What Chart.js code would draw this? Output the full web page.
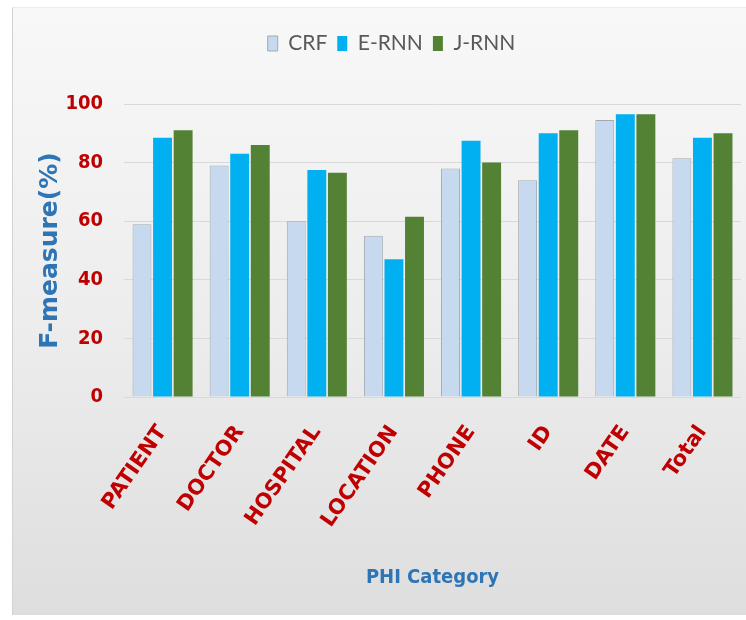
<!DOCTYPE html>
<html>
<head>
<meta charset="utf-8">
<script src="https://cdn.jsdelivr.net/npm/chart.js@4/dist/chart.umd.min.js"></script>
<style>
  body { margin: 0; background: #fff; }
  #frame {
    position: absolute; left: 12px; top: 7px; width: 740px; height: 607px;
    background: linear-gradient(#f8f8f8, #ececec 55%, #dedede);
    border-left: 1px solid #d2d2d2; border-top: 1px solid #ececec;
  }
  #wrap { position: absolute; left: 0; top: 0; width: 746px; height: 620px; }
</style>
</head>
<body>
<div id="frame"></div>
<div id="wrap"><canvas id="myChart" width="746" height="620"></canvas></div>
<script>
const categories = ['PATIENT', 'DOCTOR', 'HOSPITAL', 'LOCATION', 'PHONE', 'ID', 'DATE', 'Total'];
const crf = [59, 79, 60, 55, 78, 74, 94.5, 81.5];
const ernn = [88.5, 83, 77.5, 47, 87.5, 90, 96.5, 88.5];
const jrnn = [91, 86, 76.5, 61.5, 80, 91, 96.5, 90];
const yTicks = [0, 20, 40, 60, 80, 100];

const lato = "Lato, 'DejaVu Sans Condensed', sans-serif";
const cond = "'DejaVu Sans Condensed', 'DejaVu Sans', sans-serif";
const wide = "'DejaVu Sans', sans-serif";
const red = '#c00000';
const blue = '#2e75b6';

// legend block fixed so the plot starts at y=104, shifted a bit right like the original
const legendBox = {
    id: 'legendBox',
    beforeInit(chart) {
        const fit = chart.legend.fit;
        chart.legend.fit = function () {
            fit.call(this);
            this.height = 81;
        };
    },
    afterLayout(chart) {
        chart.legend.left += 30;
    }
};

const data = {
    labels: categories,
    datasets: [{
        label: 'CRF',
        data: crf,
        backgroundColor: '#c6d9ef',
        borderColor: '#a3a9b0',
        borderWidth: 1
    },
    {
        label: 'E-RNN',
        data: ernn,
        backgroundColor: '#00b0f0',
        borderWidth: 0
    },
    {
        label: 'J-RNN',
        data: jrnn,
        backgroundColor: '#548235',
        borderWidth: 0
    }]
};

const config = {
    type: 'bar',
    data: data,
    plugins: [legendBox],
    options: {
        responsive: false,
        animation: false,
        layout: { padding: { top: 23, left: 12, right: 5, bottom: 0 } },
        datasets: { bar: { categoryPercentage: 0.8, barPercentage: 0.92 } },
        plugins: {
            legend: {
                labels: {
                    boxWidth: 10,
                    boxHeight: 15,
                    padding: 10,
                    color: '#595959',
                    font: { family: lato, size: 21 }
                }
            },
            tooltip: { enabled: false }
        },
        scales: {
            y: {
                min: 0,
                max: 100,
                afterBuildTicks(scale) { scale.ticks = yTicks.map(v => ({ value: v })); },
                afterFit(scale) { scale.width = 112; },
                grid: { color: '#d9d9d9', drawTicks: false },
                border: { display: false },
                ticks: {
                    padding: 21,
                    color: red,
                    font: { family: cond, size: 20, weight: 'bold' }
                },
                title: {
                    display: true,
                    text: 'F-measure(%)',
                    color: blue,
                    padding: { top: 23, bottom: 0 },
                    font: { family: wide, size: 25, weight: 'bold' }
                }
            },
            x: {
                afterFit(scale) { scale.height = 223; },
                grid: { display: false },
                border: { display: false },
                ticks: {
                    autoSkip: false,
                    maxRotation: 55,
                    minRotation: 55,
                    padding: 16,
                    color: red,
                    font: { family: wide, size: 21, weight: 'bold' }
                },
                title: {
                    display: true,
                    text: 'PHI Category',
                    color: blue,
                    padding: { top: 0, bottom: 30 },
                    font: { family: cond, size: 20, weight: 'bold' }
                }
            }
        }
    }
};

const myChart = new Chart(document.getElementById('myChart'), config);
</script>
</body>
</html>
